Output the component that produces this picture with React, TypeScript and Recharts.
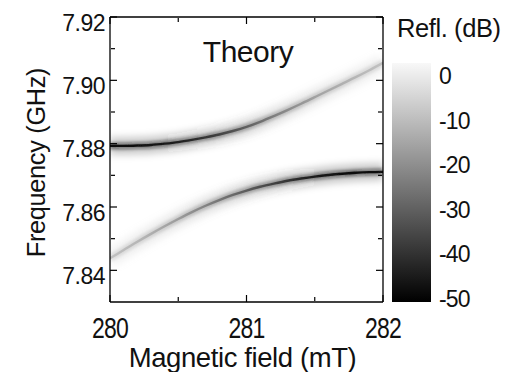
import React from 'react';
import { LineChart, Line, XAxis, YAxis, BarChart, Bar } from 'recharts';

// ---- data ----
const fieldB = [280.0, 280.1, 280.2, 280.3, 280.4, 280.5, 280.6, 280.7, 280.8, 280.9, 281.0,
  281.1, 281.2, 281.3, 281.4, 281.5, 281.6, 281.7, 281.8, 281.9, 282.0];
const upperFreq = [7.8793, 7.8793, 7.8794, 7.8796, 7.8800, 7.8805, 7.8812, 7.8820, 7.8829, 7.8840, 7.8853,
  7.8869, 7.8887, 7.8906, 7.8926, 7.8947, 7.8968, 7.8989, 7.9010, 7.9032, 7.9055];
const lowerFreq = [7.8438, 7.8464, 7.8490, 7.8515, 7.8539, 7.8562, 7.8584, 7.8604, 7.8622, 7.8638, 7.8652,
  7.8664, 7.8674, 7.8683, 7.8690, 7.8696, 7.8701, 7.8705, 7.8708, 7.8710, 7.8711];

// depth of the reflection dip (dB) along each branch
const depthField = [280, 280.25, 280.5, 280.75, 281, 281.25, 281.5, 281.75, 282];
const upperDepth = [-48, -47, -44, -38, -30, -22, -16, -12, -9];
const lowerDepth = [-9, -12, -17, -24, -31, -38, -45, -48, -47];

const freqDomain = [7.83, 7.92];
const fieldDomain = [280, 282];
const freqMajorTicks = [7.84, 7.86, 7.88, 7.9, 7.92];
const freqMinorTicks = [7.85, 7.87, 7.89, 7.91];
const fieldMajorTicks = [280, 281, 282];
const fieldMinorTicks = [280.5, 281.5];
const colorbarTicks = [0, -10, -20, -30, -40, -50];
const colorbarRange = [-50.9, 2.9];

const FONT = '"Liberation Sans", Arial, Helvetica, sans-serif';
const INK = '#111';

const tableData = fieldB.map((b, i) => ({ b, upper: upperFreq[i], lower: lowerFreq[i] }));
const colorbarData = [{ name: 'cb', range: colorbarRange }];

const grayOf = (db: number) => {
  const t = (db - colorbarRange[0]) / (colorbarRange[1] - colorbarRange[0]);
  const g = Math.max(0, Math.min(248, Math.round(248 * t)));
  return `rgb(${g},${g},${g})`;
};

const FreqTick = (props: any) => {
  const { x, y, payload } = props;
  return (
    <text x={x} y={y + 13.5} textAnchor="end" fontSize={23} fill={INK} fontFamily={FONT} letterSpacing={-0.5}>
      {Number(payload.value).toFixed(2)}
    </text>
  );
};

const FieldTick = (props: any) => {
  const { x, y, payload } = props;
  return (
    <text transform={`translate(${x},${y + 36.3}) scale(1,1.25)`} textAnchor="middle" fontSize={23}
      fill={INK} fontFamily={FONT} letterSpacing={-0.8}>
      {payload.value}
    </text>
  );
};

const CbTick = (props: any) => {
  const { x, y, payload } = props;
  return (
    <text x={x} y={y + 8.5} textAnchor="start" fontSize={23} fill={INK} fontFamily={FONT} letterSpacing={-0.8}>
      {String(payload.value)}
    </text>
  );
};

const EmptyTick = () => <g />;

const layers = [
  { key: 'halo', width: 18, opacity: 0.2, filter: 'url(#blurWide)' },
  { key: 'mid', width: 7, opacity: 0.45, filter: 'url(#blurMid)' },
  { key: 'core', width: 2.4, opacity: 1, filter: 'url(#blurCore)' },
];

const branches = [
  { key: 'upper', grad: 'gradUpper' },
  { key: 'lower', grad: 'gradLower' },
];

const tickAxisCommon = {
  type: 'number' as const,
  tick: <EmptyTick />,
  axisLine: { stroke: '#000', strokeWidth: 1.3 },
  tickLine: { stroke: '#000', strokeWidth: 1.2 },
  mirror: true,
  allowDataOverflow: true,
};

export default function App() {
  return (
    <div style={{ position: 'absolute', left: 0, top: 0, width: 510, height: 372, background: '#fff', overflow: 'hidden' }}>
      <div style={{ position: 'absolute', left: 0, top: 0 }}>
        <LineChart width={510} height={372} data={tableData} margin={{ top: 17, right: 127, bottom: 30, left: 50 }}>
          <defs>
            <filter id="blurWide" filterUnits="userSpaceOnUse" x={0} y={0} width={510} height={372}>
              <feGaussianBlur stdDeviation={3.5} />
            </filter>
            <filter id="blurMid" filterUnits="userSpaceOnUse" x={0} y={0} width={510} height={372}>
              <feGaussianBlur stdDeviation={1.5} />
            </filter>
            <filter id="blurCore" filterUnits="userSpaceOnUse" x={0} y={0} width={510} height={372}>
              <feGaussianBlur stdDeviation={0.5} />
            </filter>
            <linearGradient id="gradUpper" x1="0" y1="0" x2="1" y2="0">
              {depthField.map((b, i) => (
                <stop key={i} offset={(b - fieldDomain[0]) / (fieldDomain[1] - fieldDomain[0])} stopColor={grayOf(upperDepth[i])} />
              ))}
            </linearGradient>
            <linearGradient id="gradLower" x1="0" y1="0" x2="1" y2="0">
              {depthField.map((b, i) => (
                <stop key={i} offset={(b - fieldDomain[0]) / (fieldDomain[1] - fieldDomain[0])} stopColor={grayOf(lowerDepth[i])} />
              ))}
            </linearGradient>
          </defs>

          <XAxis xAxisId="x" dataKey="b" type="number" domain={fieldDomain} ticks={fieldMajorTicks}
            allowDataOverflow height={40} axisLine={false} tickLine={false} tickSize={0} tickMargin={0}
            tick={<FieldTick />} interval={0} />
          <XAxis xAxisId="xb1" dataKey="b" {...tickAxisCommon} orientation="bottom" domain={fieldDomain} ticks={fieldMajorTicks} height={1} tickSize={7} interval={0} />
          <XAxis xAxisId="xb2" dataKey="b" {...tickAxisCommon} orientation="bottom" domain={fieldDomain} ticks={fieldMinorTicks} height={1} tickSize={4} axisLine={false} interval={0} />
          <XAxis xAxisId="xt1" dataKey="b" {...tickAxisCommon} orientation="top" domain={fieldDomain} ticks={fieldMajorTicks} height={1} tickSize={7} interval={0} />
          <XAxis xAxisId="xt2" dataKey="b" {...tickAxisCommon} orientation="top" domain={fieldDomain} ticks={fieldMinorTicks} height={1} tickSize={4} axisLine={false} interval={0} />

          <YAxis yAxisId="y" type="number" domain={freqDomain} ticks={freqMajorTicks} allowDataOverflow
            width={60} axisLine={false} tickLine={false} tickSize={0} tickMargin={5} tick={<FreqTick />} interval={0} />
          <YAxis yAxisId="yl1" {...tickAxisCommon} orientation="left" domain={freqDomain} ticks={freqMajorTicks} width={1} tickSize={7} interval={0} />
          <YAxis yAxisId="yl2" {...tickAxisCommon} orientation="left" domain={freqDomain} ticks={freqMinorTicks} width={1} tickSize={4} axisLine={false} interval={0} />
          <YAxis yAxisId="yr1" {...tickAxisCommon} orientation="right" domain={freqDomain} ticks={freqMajorTicks} width={1} tickSize={7} interval={0} />
          <YAxis yAxisId="yr2" {...tickAxisCommon} orientation="right" domain={freqDomain} ticks={freqMinorTicks} width={1} tickSize={4} axisLine={false} interval={0} />

          {branches.map((br) =>
            layers.map((ly) => (
              <Line
                key={`${br.key}-${ly.key}`}
                xAxisId="x"
                yAxisId="y"
                dataKey={br.key}
                type="monotone"
                stroke={`url(#${br.grad})`}
                strokeWidth={ly.width}
                strokeOpacity={ly.opacity}
                filter={ly.filter}
                dot={false}
                activeDot={false}
                isAnimationActive={false}
              />
            ))
          )}

          <text x={248} y={61.7} textAnchor="middle" fontSize={30} fill={INK} fontFamily={FONT} letterSpacing={-0.5}>Theory</text>
          <text x={397} y={36.7} textAnchor="start" fontSize={25.5} fill={INK} fontFamily={FONT} letterSpacing={-0.4}>Refl. (dB)</text>
          <text transform="translate(45,162.5) rotate(-90)" textAnchor="middle" fontSize={25.3} fill={INK} fontFamily={FONT} letterSpacing={-0.3}>Frequency (GHz)</text>
          <text x={242.5} y={366.7} textAnchor="middle" fontSize={27.5} fill={INK} fontFamily={FONT} letterSpacing={-0.4}>Magnetic field (mT)</text>
        </LineChart>
      </div>

      <div style={{ position: 'absolute', left: 0, top: 0 }}>
        <BarChart width={510} height={372} data={colorbarData} margin={{ top: 63, right: 19, bottom: 70, left: 392 }}
          barCategoryGap={0} barGap={0}>
          <defs>
            <linearGradient id="cbarGrad" x1="0" y1="0" x2="0" y2="1">
              <stop offset={0} stopColor={grayOf(colorbarRange[1])} />
              <stop offset={1} stopColor={grayOf(colorbarRange[0])} />
            </linearGradient>
          </defs>
          <XAxis dataKey="name" hide />
          <YAxis orientation="right" type="number" domain={colorbarRange} ticks={colorbarTicks} allowDataOverflow
            width={60} axisLine={false} tickLine={false} tickSize={0} tickMargin={8} tick={<CbTick />} interval={0} />
          <Bar dataKey="range" fill="url(#cbarGrad)" isAnimationActive={false} />
        </BarChart>
      </div>
    </div>
  );
}
